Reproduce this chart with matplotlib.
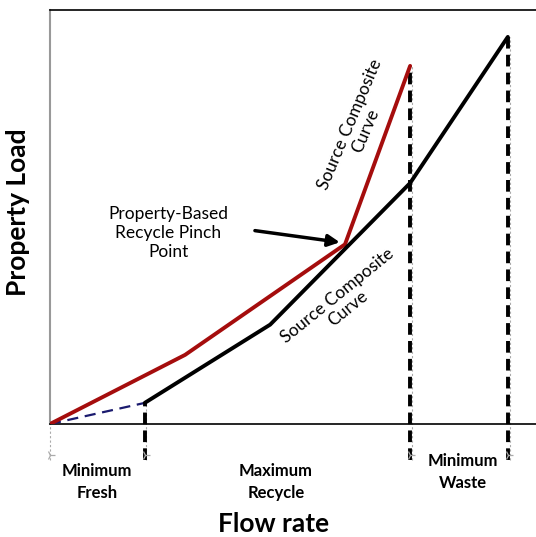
import matplotlib
matplotlib.use("Agg")
import matplotlib.pyplot as plt

plt.rcParams['font.family'] = ['Lato', 'DejaVu Sans']

# Schematic data (flow, property load) in arbitrary units 0..100
red_x = [0, 27.8, 60.7, 74.1]
red_y = [0, 16.7, 43.4, 86.5]
blk_x = [19.5, 45.3, 74.1, 94.2]
blk_y = [5.1, 24.0, 58.2, 93.5]
fresh_x = [0, 19.5]
fresh_y = [0, 5.1]
vline_x = [19.5, 74.1, 94.2]
vline_top = [5.1, 86.5, 93.5]
region_labels = ["Minimum\nFresh", "Maximum\nRecycle", "Minimum\nWaste"]

W, H = 536, 537
fig = plt.figure(figsize=(W/100, H/100), dpi=100)
ax = fig.add_axes([50/W, (H-424)/H, 486/W, 414/H])
ax.set_xlim(0, 100)
ax.set_ylim(0, 100)
ax.set_xticks([]); ax.set_yticks([])
ax.spines['right'].set_visible(False)
ax.spines['top'].set_color('black'); ax.spines['top'].set_linewidth(1.2)
ax.spines['bottom'].set_color('black'); ax.spines['bottom'].set_linewidth(1.2)
ax.spines['left'].set_color('#999999'); ax.spines['left'].set_linewidth(1.5)

bottom = -8.7
# thin dotted guide lines
ax.plot([0, 0], [bottom, 0], color='#aaaaaa', lw=0.8, ls=(0, (2, 2)), clip_on=False, zorder=1)
for x, t in zip(vline_x, vline_top):
    ax.plot([x + 0.35, x + 0.35], [bottom, t], color='#aaaaaa',
            lw=0.8, ls=(0, (2, 2)), clip_on=False, zorder=1)
# thick dashed verticals
for x, t in zip(vline_x, vline_top):
    ax.plot([x, x], [bottom, t], color='black', lw=2.8, ls=(0, (3, 1.6)),
            clip_on=False, zorder=2, solid_capstyle='butt', dash_capstyle='butt')
# small markers at bottom
ax.plot([0] + vline_x, [-7.5] * 4, ls='none', marker='4', color='#aaaaaa', ms=7,
        mew=0.9, clip_on=False, zorder=3)

ax.plot(fresh_x, fresh_y, color='#1a1a6e', lw=1.6, ls=(0, (5, 3)), zorder=3)
ax.plot(red_x, red_y, color='#a50d0d', lw=2.8, zorder=4, solid_capstyle='round')
ax.plot(blk_x, blk_y, color='black', lw=2.8, zorder=5, solid_capstyle='round')

ax.annotate("", xy=(60.2, 43.8), xytext=(41.6, 46.8),
            arrowprops=dict(arrowstyle='-|>,head_length=0.7,head_width=0.35', color='black', lw=2.5),
            zorder=6)

fig.text(168/W, 1 - 233/H, "Property-Based\nRecycle Pinch\nPoint", ha='center', va='center',
         fontsize=12.5, linespacing=1.2)
fig.text(358/W, 1 - 128/H, "Source Composite\nCurve", ha='center', va='center',
         fontsize=12.5, rotation=67, linespacing=1.05)
fig.text(343/W, 1 - 302/H, "Source Composite\nCurve", ha='center', va='center',
         fontsize=12.5, rotation=39, linespacing=1.05)

label_pos = [(97, 482), (276, 482), (463, 472)]
for (px, py), lab in zip(label_pos, region_labels):
    fig.text(px/W, 1 - py/H, lab, ha='center', va='center', fontsize=12,
             fontweight='bold', linespacing=1.45)

fig.text(18/W, 1 - 212/H, "Property Load", rotation=90, ha='center', va='center',
         fontsize=19, fontweight='bold')
fig.text(274/W, 1 - 524/H, "Flow rate", ha='center', va='center',
         fontsize=19, fontweight='bold')

fig.savefig("out.png", dpi=100)
